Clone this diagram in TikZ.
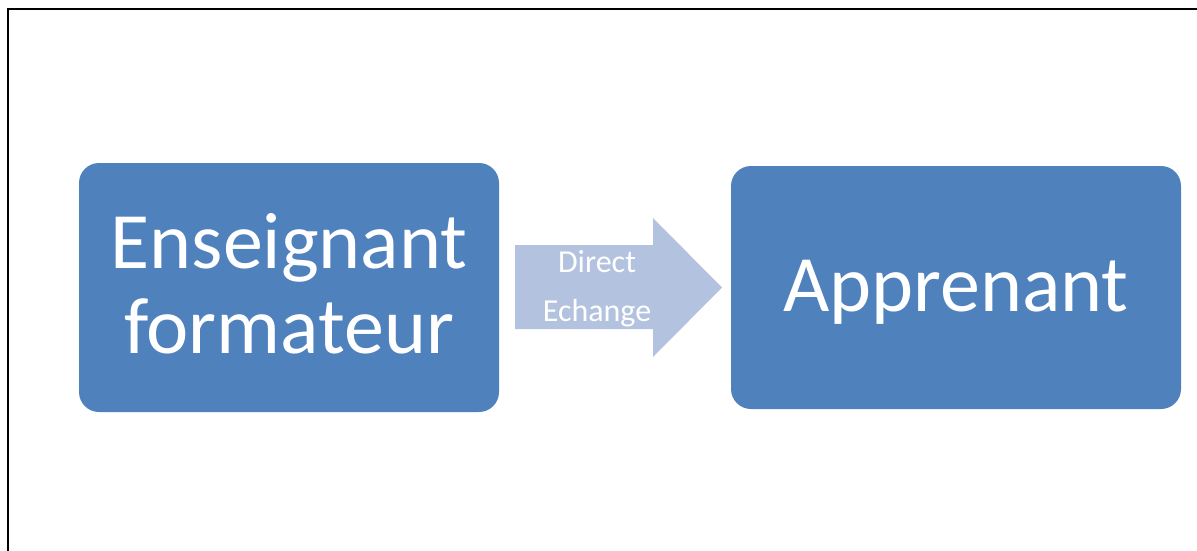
\documentclass[tikz,border=0pt]{standalone}
\usepackage{fontspec}
\setmainfont{Carlito}
\begin{document}
\begin{tikzpicture}[x=1pt,y=-1pt,
  box/.style={draw=none,fill=boxblue,rounded corners=20pt,inner sep=0pt},
  big/.style={font=\fontsize{80}{85}\selectfont,text=white,align=center,inner sep=0pt},
  small/.style={font=\fontsize{32}{49}\selectfont,text=white,align=center}]
\definecolor{boxblue}{HTML}{4F81BD}
\definecolor{arrowblue}{HTML}{B3C2DE}
\useasboundingbox (0,0) rectangle (1197,551);
\draw[line width=2pt] (8,551) -- (8,9.5) -- (1197,9.5);
\node[box,minimum width=420pt,minimum height=249pt] (ens) at (289,287.5) {};
\node[big] (enst) at (289,284) {Enseignant\\formateur};
\node[box,minimum width=450pt,minimum height=243pt] (app) at (956,287.5) {};
\node[big] (appt) at (956,292) {Apprenant};
\fill[arrowblue] (515,245) -- (653,245) -- (653,218) -- (722,287.5) -- (653,357) -- (653,329) -- (515,329) -- cycle;
\node[small] (lab) at (597,289) {Direct\\Echange};
\end{tikzpicture}
\end{document}
